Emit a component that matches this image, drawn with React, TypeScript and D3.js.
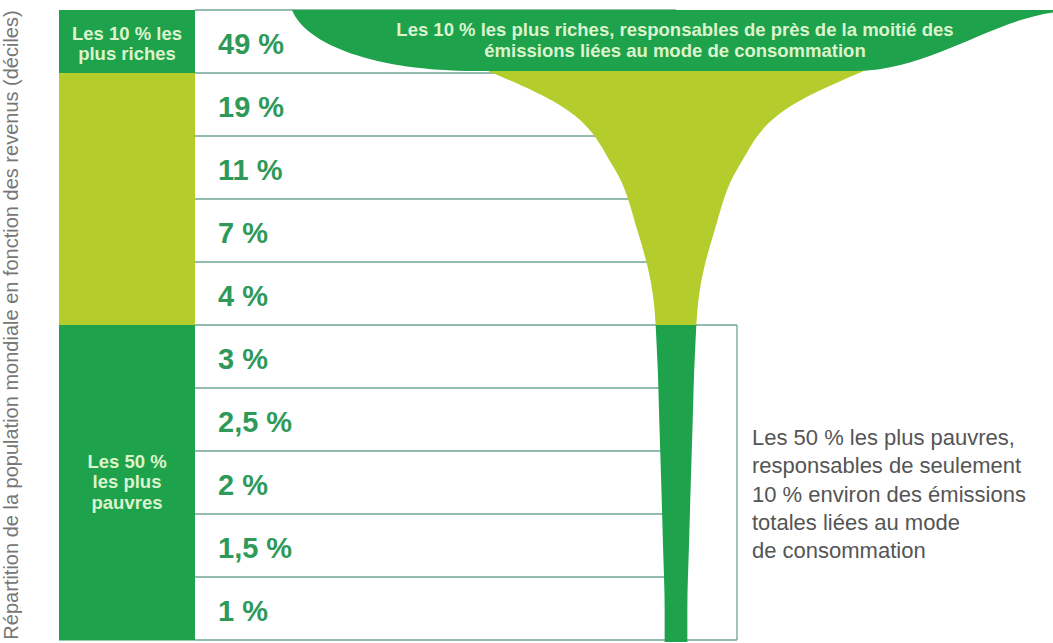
import React from "react";
import * as d3 from "d3";

// share of consumption emissions per income decile (richest first)
const deciles = ["D10", "D9", "D8", "D7", "D6", "D5", "D4", "D3", "D2", "D1"];
const shares = [49, 19, 11, 7, 4, 3, 2.5, 2, 1.5, 1];
const groups = ["top", "mid", "mid", "mid", "mid", "low", "low", "low", "low", "low"];

const topLabel = ["Les 10 % les", "plus riches"];
const lowLabel = ["Les 50 %", "les plus", "pauvres"];
const topNote = [
  "Les 10 % les plus riches, responsables de près de la moitié des",
  "émissions liées au mode de consommation",
];
const lowNote = [
  "Les 50 % les plus pauvres,",
  "responsables de seulement",
  "10 % environ des émissions",
  "totales liées au mode",
  "de consommation",
];
const axisTitle = "Répartition de la population mondiale en fonction des revenus (déciles)";

const W = 1053;
const H = 643;
const DARK = "#1ea24c";
const LIME = "#b4cd2d";
const LINE = "#6fa595";
const VALUE = "#2f9a58";
const PALE = "#dcf4cc";
const FONT = "'Liberation Sans', Arial, sans-serif";

const App = () => {
  const y = d3.scaleBand<number>().domain(d3.range(deciles.length)).range([10, 640]);
  const bw = y.bandwidth();
  const colX = 59;
  const cellX = 195;
  const boxRight = 737;
  const cx = 676;

  // funnel width as a function of the share
  const w = d3.scalePow().exponent(1.3).domain([0, d3.max(shares)!]).range([18, 760]);

  const top = y(0)!;
  const bot = y(0)! + bw - 2;
  const left = cx - w(shares[0]) / 2;
  const right = cx + w(shares[0]) / 2;
  const innerL = cx - w(shares[0]) / 4 - 10;
  const innerR = cx + w(shares[0]) / 4 - 10;

  const band = d3.path();
  band.moveTo(left, top);
  band.lineTo(right, top);
  band.lineTo(right, top + 2);
  band.bezierCurveTo(right - 65, top + 10, right - 125, bot - 1, innerR, bot);
  band.lineTo(innerL, bot);
  band.bezierCurveTo(left + 80, bot, left + 10, top + 35, left - 4, top);
  band.closePath();

  const pts = [
    { y: bot - 3, w: w(shares[0]) / 2 + 10 },
    ...shares.slice(1).map((v, i) => ({ y: y(i + 1)! + bw / 2, w: w(v) })),
    { y: y(deciles.length - 1)! + bw + 2, w: w(shares[shares.length - 1]) },
  ];
  const area = d3
    .area<{ y: number; w: number }>()
    .y((d) => d.y)
    .x0((d) => cx - d.w / 2)
    .x1((d) => cx + d.w / 2)
    .curve(d3.curveMonotoneY);
  const funnel = area(pts)!;

  const splitY = y(5)!;
  const bottomY = y(9)! + bw;
  const fmt = (v: number) => String(v).replace(".", ",") + " %";
  const colFill = (g: string) => (g === "mid" ? LIME : DARK);

  const lowMid = (y(5)! + bottomY) / 2;

  return (
    <div style={{ position: "fixed", left: 0, top: 0, width: W, height: H, background: "#fff" }}>
      <svg width={W} height={H} style={{ display: "block", fontFamily: FONT }}>
        <defs>
          <clipPath id="upper">
            <rect x={0} y={0} width={W} height={splitY} />
          </clipPath>
          <clipPath id="lower">
            <rect x={0} y={splitY} width={W} height={H - splitY} />
          </clipPath>
        </defs>

        {/* left column */}
        {groups.map((g, i) => (
          <rect key={i} x={colX} y={y(i)!} width={cellX - colX} height={bw + 0.5} fill={colFill(g)} />
        ))}

        {/* row lines */}
        {d3.range(deciles.length + 1).map((i) => {
          const yy = i < deciles.length ? y(i)! : bottomY;
          const x2 = i === 5 || i === deciles.length ? boxRight : cx;
          return <line key={i} x1={cellX} x2={x2} y1={yy} y2={yy} stroke={LINE} strokeWidth={1.3} />;
        })}
        <line x1={boxRight} x2={boxRight} y1={splitY} y2={bottomY} stroke={LINE} strokeWidth={1.3} />

        {/* funnel */}
        <path d={funnel} fill={LIME} clipPath="url(#upper)" />
        <path d={funnel} fill={DARK} clipPath="url(#lower)" />
        <path d={band.toString()} fill={DARK} />

        {/* values */}
        {shares.map((v, i) => (
          <text key={i} x={218} y={y(i)! + bw / 2 + 12} fill={VALUE} fontSize={29} fontWeight="bold">
            {fmt(v)}
          </text>
        ))}

        {/* column labels */}
        {topLabel.map((t, i) => (
          <text key={i} x={(colX + cellX) / 2} y={top + 30 + i * 20} fill={PALE} fontSize={18.5} fontWeight="bold" textAnchor="middle">
            {t}
          </text>
        ))}
        {lowLabel.map((t, i) => (
          <text key={i} x={(colX + cellX) / 2} y={lowMid - 15 + i * 20.5} fill={PALE} fontSize={18.5} fontWeight="bold" textAnchor="middle">
            {t}
          </text>
        ))}

        {/* notes */}
        {topNote.map((t, i) => (
          <text key={i} x={cx - 1} y={top + 26 + i * 20.5} fill={PALE} fontSize={18.5} fontWeight="bold" textAnchor="middle">
            {t}
          </text>
        ))}
        {lowNote.map((t, i) => (
          <text key={i} x={752} y={445 + i * 28.3} fill="#555" fontSize={22}>
            {t}
          </text>
        ))}

        <text
          transform={`translate(18,${(top + bottomY) / 2}) rotate(-90)`}
          textAnchor="middle"
          fill="#777"
          fontSize={20}
        >
          {axisTitle}
        </text>
      </svg>
    </div>
  );
};

export default App;
